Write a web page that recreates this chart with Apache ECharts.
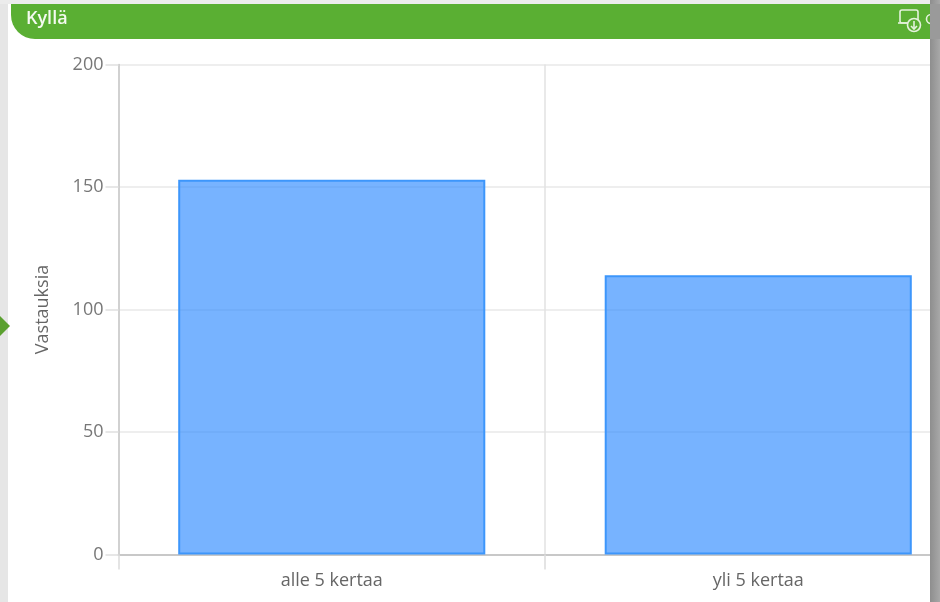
<!DOCTYPE html>
<html><head><meta charset="utf-8">
<style>html,body{margin:0;padding:0;background:#fff}#c{width:940px;height:602px}</style>
<script src="https://cdn.jsdelivr.net/npm/echarts@6/dist/echarts.min.js"></script></head>
<body><div id="c"></div>
<script>
const categories = ['alle 5 kertaa', 'yli 5 kertaa'];
const responses = [153, 114];
const yTicks = { min: 0, max: 200, interval: 50 };
const headerTitle = 'Kyllä';
const yTitle = 'Vastauksia';
const chart = echarts.init(document.getElementById('c'), null, { renderer: 'canvas' });
const font = '"Open Sans", sans-serif';
const overlayLine = { stroke: '#e4f2dc', fill: 'none', lineWidth: 1.6 };
chart.setOption({
  animation: false,
  backgroundColor: '#fff',
  grid: { left: 118.5, top: 64.5, width: 853, height: 490, containLabel: false, outerBoundsMode: 'none' },
  xAxis: {
    type: 'category', data: categories,
    axisLine: { lineStyle: { color: '#c8c8c8', width: 2 } },
    axisTick: { show: true, length: 15, lineStyle: { color: '#dcdcdc', width: 1.5 } },
    splitLine: { show: true, lineStyle: { color: '#e2e2e2', width: 1.5 } },
    axisLabel: { color: '#666', fontFamily: font, fontSize: 18, margin: 17, interval: 0 }
  },
  yAxis: {
    type: 'value', min: yTicks.min, max: yTicks.max, interval: yTicks.interval,
    name: yTitle, nameLocation: 'middle', nameGap: 67, nameRotate: 90,
    nameTextStyle: { color: '#666', fontFamily: font, fontSize: 18 },
    axisLine: { show: true, lineStyle: { color: '#c8c8c8', width: 1.5 } },
    axisTick: { show: true, length: 13, lineStyle: { color: '#e0e0e0', width: 1.5 } },
    splitLine: { show: true, lineStyle: { color: '#e8e8e8', width: 1.5 } },
    axisLabel: { color: '#777', fontFamily: font, fontSize: 18, margin: 15, padding: [0, 0, 2, 0] }
  },
  series: [{
    type: 'bar', data: responses, barWidth: '72%',
    itemStyle: { color: 'rgba(49,140,255,0.66)', borderColor: '#3d96fb', borderWidth: 2 }
  }],
  graphic: [
    { type: 'rect', z: 100, shape: { x: 0, y: 0, width: 8, height: 602 }, style: { fill: '#e6e6e6' } },
    { type: 'rect', z: 100, shape: { x: 0, y: 0, width: 940, height: 4 }, style: { fill: '#ececec' } },
    { type: 'rect', z: 100, shape: { x: 930, y: 0, width: 10, height: 602 }, style: { fill: new echarts.graphic.LinearGradient(0, 0, 1, 0, [{ offset: 0, color: '#8e8e8e' }, { offset: 1, color: '#a8a8a8' }]) } },
    { type: 'rect', z: 101, shape: { x: 11, y: 4, width: 919, height: 35, r: [0, 0, 0, 24] }, style: { fill: '#5aaf33' } },
    { type: 'text', z: 102, style: { x: 26, y: 10, text: headerTitle, fill: '#f4faf0', font: '600 18px ' + font, textVerticalAlign: 'top' } },
    { type: 'polygon', z: 102, shape: { points: [[0, 316], [10, 326], [0, 336]] }, style: { fill: '#5aa02f' } },
    { type: 'rect', z: 102, shape: { x: 900, y: 10, width: 18, height: 13, r: 2 }, style: overlayLine },
    { type: 'line', z: 102, shape: { x1: 898, y1: 23, x2: 908, y2: 23 }, style: overlayLine },
    { type: 'circle', z: 103, shape: { cx: 914, cy: 25, r: 6.5 }, style: { stroke: '#e4f2dc', fill: '#5aaf33', lineWidth: 1.6 } },
    { type: 'polyline', z: 104, shape: { points: [[914, 21], [914, 29]] }, style: overlayLine },
    { type: 'polyline', z: 104, shape: { points: [[911, 26], [914, 29], [917, 26]] }, style: overlayLine },
    { type: 'circle', z: 102, shape: { cx: 931, cy: 19, r: 4.5 }, style: overlayLine },
    { type: 'rect', z: 103, shape: { x: 930, y: 4, width: 10, height: 35 }, style: { fill: '#9a9a9a' } }
  ]
});
</script></body></html>
